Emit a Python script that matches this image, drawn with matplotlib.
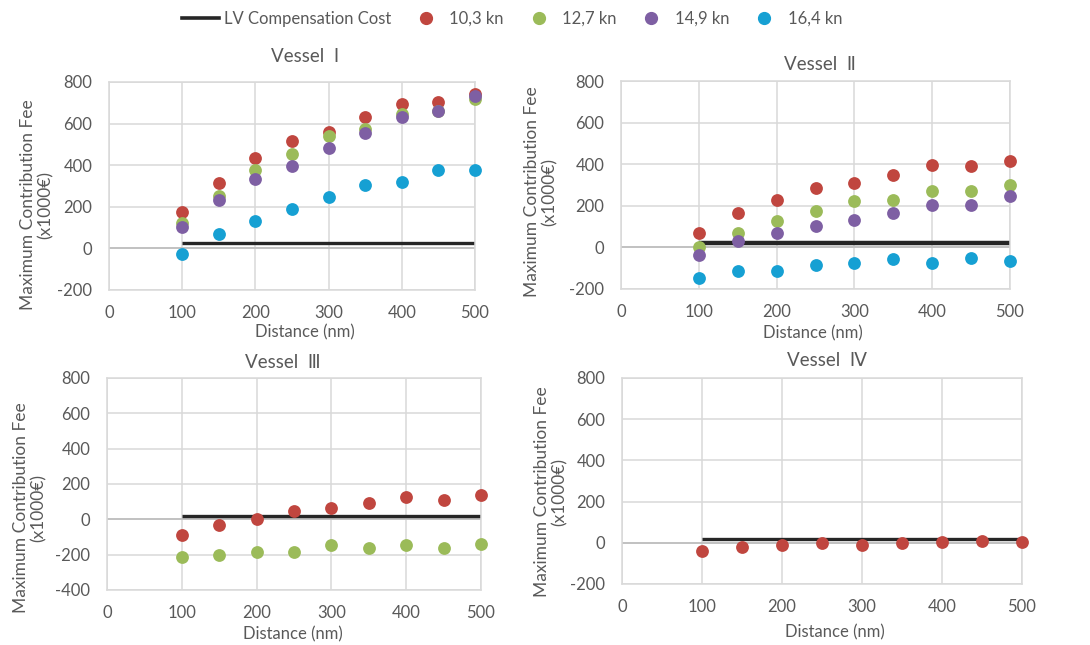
import numpy as np
import matplotlib.pyplot as plt
from matplotlib.lines import Line2D

plt.rcParams['font.family'] = ['Lato', 'DejaVu Sans']
plt.rcParams['axes.unicode_minus'] = False

# Dữ liệu
distance = [100, 150, 200, 250, 300, 350, 400, 450, 500]
lv_x = [100, 500]

v1_lv = [26, 26]
v1_103 = [177, 315, 435, 516, 561, 631, 695, 703, 744]
v1_127 = [121, 250, 379, 452, 540, 573, 645, 662, 718]
v1_149 = [102, 231, 336, 395, 484, 557, 631, 661, 731]
v1_164 = [-27, 69, 134, 190, 247, 306, 319, 379, 379]

v2_lv = [22, 22]
v2_103 = [70, 166, 230, 286, 310, 350, 398, 390, 414]
v2_127 = [3, 70, 126, 174, 222, 230, 270, 270, 302]
v2_149 = [-37, 30, 70, 102, 134, 166, 206, 206, 246]
v2_164 = [-146, -114, -114, -85, -74, -58, -74, -50, -66]

v3_lv = [21, 21]
v3_103 = [-90, -32, 4, 47, 62, 90, 128, 109, 137]
v3_127 = [-213, -203, -184, -184, -147, -164, -147, -164, -137]

v4_lv = [20, 20]
v4_103 = [-38, -21, -13, -3, -13, -3, 5, 11, 5]

titles = ['Vessel  Ⅰ', 'Vessel  Ⅱ', 'Vessel  Ⅲ', 'Vessel  Ⅳ']
series_names = ['10,3 kn', '12,7 kn', '14,9 kn', '16,4 kn']
colors = ['#C0463F', '#9BBB59', '#7E5FA3', '#16A0D3']

W, H = 1090, 645
TXT = '#595959'
GRID = '#D9D9D9'

fig = plt.figure(figsize=(W / 100, H / 100), dpi=100)


def px_axes(l, t, r, b):
    return fig.add_axes([l / W, 1 - b / H, (r - l) / W, (b - t) / H])


def fig_text(x, y, s, **kw):
    fig.text(x / W, 1 - y / H, s, color=TXT, ha='center', va='center', **kw)


panels = [
    # (khung axes, ylim, lv, series, vị trí title, xlabel, ylabel, độ dày LV)
    ((109, 82, 475, 290), (-200, 800), v1_lv, [v1_103, v1_127, v1_149, v1_164],
     (305, 57), (305, 332), (37, 205), 2.4),
    ((621, 81, 1010, 289), (-200, 800), v2_lv, [v2_103, v2_127, v2_149, v2_164],
     (820, 64), (813, 333), (541, 192), 3.2),
    ((107, 378, 481, 590), (-400, 800), v3_lv, [v3_103, v3_127],
     (283, 362), (293, 634), (30, 508), 2.4),
    ((622, 378, 1022, 584), (-200, 800), v4_lv, [v4_103],
     (827, 360), (835, 632), (551, 492), 2.4),
]

for i, (box, ylim, lv, series, tpos, xpos, ypos, lw) in enumerate(panels):
    ax = px_axes(*box)
    ax.set_xlim(0, 500)
    ax.set_ylim(*ylim)
    ax.set_xticks(range(0, 501, 100))
    ax.set_yticks(range(ylim[0], ylim[1] + 1, 200))
    ax.grid(True, color=GRID, lw=1.1)
    ax.set_axisbelow(True)
    for sp in ax.spines.values():
        sp.set_color(GRID)
        sp.set_linewidth(1.1)
    ax.axhline(0, color='#BFBFBF', lw=1.3, zorder=1)
    ax.tick_params(length=0, labelsize=12, labelcolor=TXT)
    ax.tick_params(axis='x', pad=11)
    ax.tick_params(axis='y', pad=12)
    ax.plot(lv_x, lv, color='#262626', lw=lw, zorder=2, solid_capstyle='butt')
    for vals, c in zip(series, colors):
        ax.scatter(distance, vals, s=85, color=c, zorder=3, clip_on=False, linewidths=0)
    fig_text(*tpos, titles[i], fontsize=13.5)
    fig_text(*xpos, 'Distance (nm)', fontsize=12)
    fig_text(*ypos, 'Maximum Contribution Fee\n(x1000€)', fontsize=12.5,
             rotation=90, linespacing=1.1)

handles = [Line2D([], [], color='#262626', lw=2.6, label='LV Compensation Cost')]
for name, c in zip(series_names, colors):
    handles.append(Line2D([], [], ls='', marker='o', ms=8.5, color=c, label=name))
leg = fig.legend(handles=handles, loc='center', bbox_to_anchor=(512 / W, 1 - 19 / H),
                 ncol=5, frameon=False, fontsize=12, handlelength=2.2,
                 columnspacing=1.0, handletextpad=0.3)
for t in leg.get_texts():
    t.set_color(TXT)

fig.savefig('out.png', dpi=100, facecolor='white')
